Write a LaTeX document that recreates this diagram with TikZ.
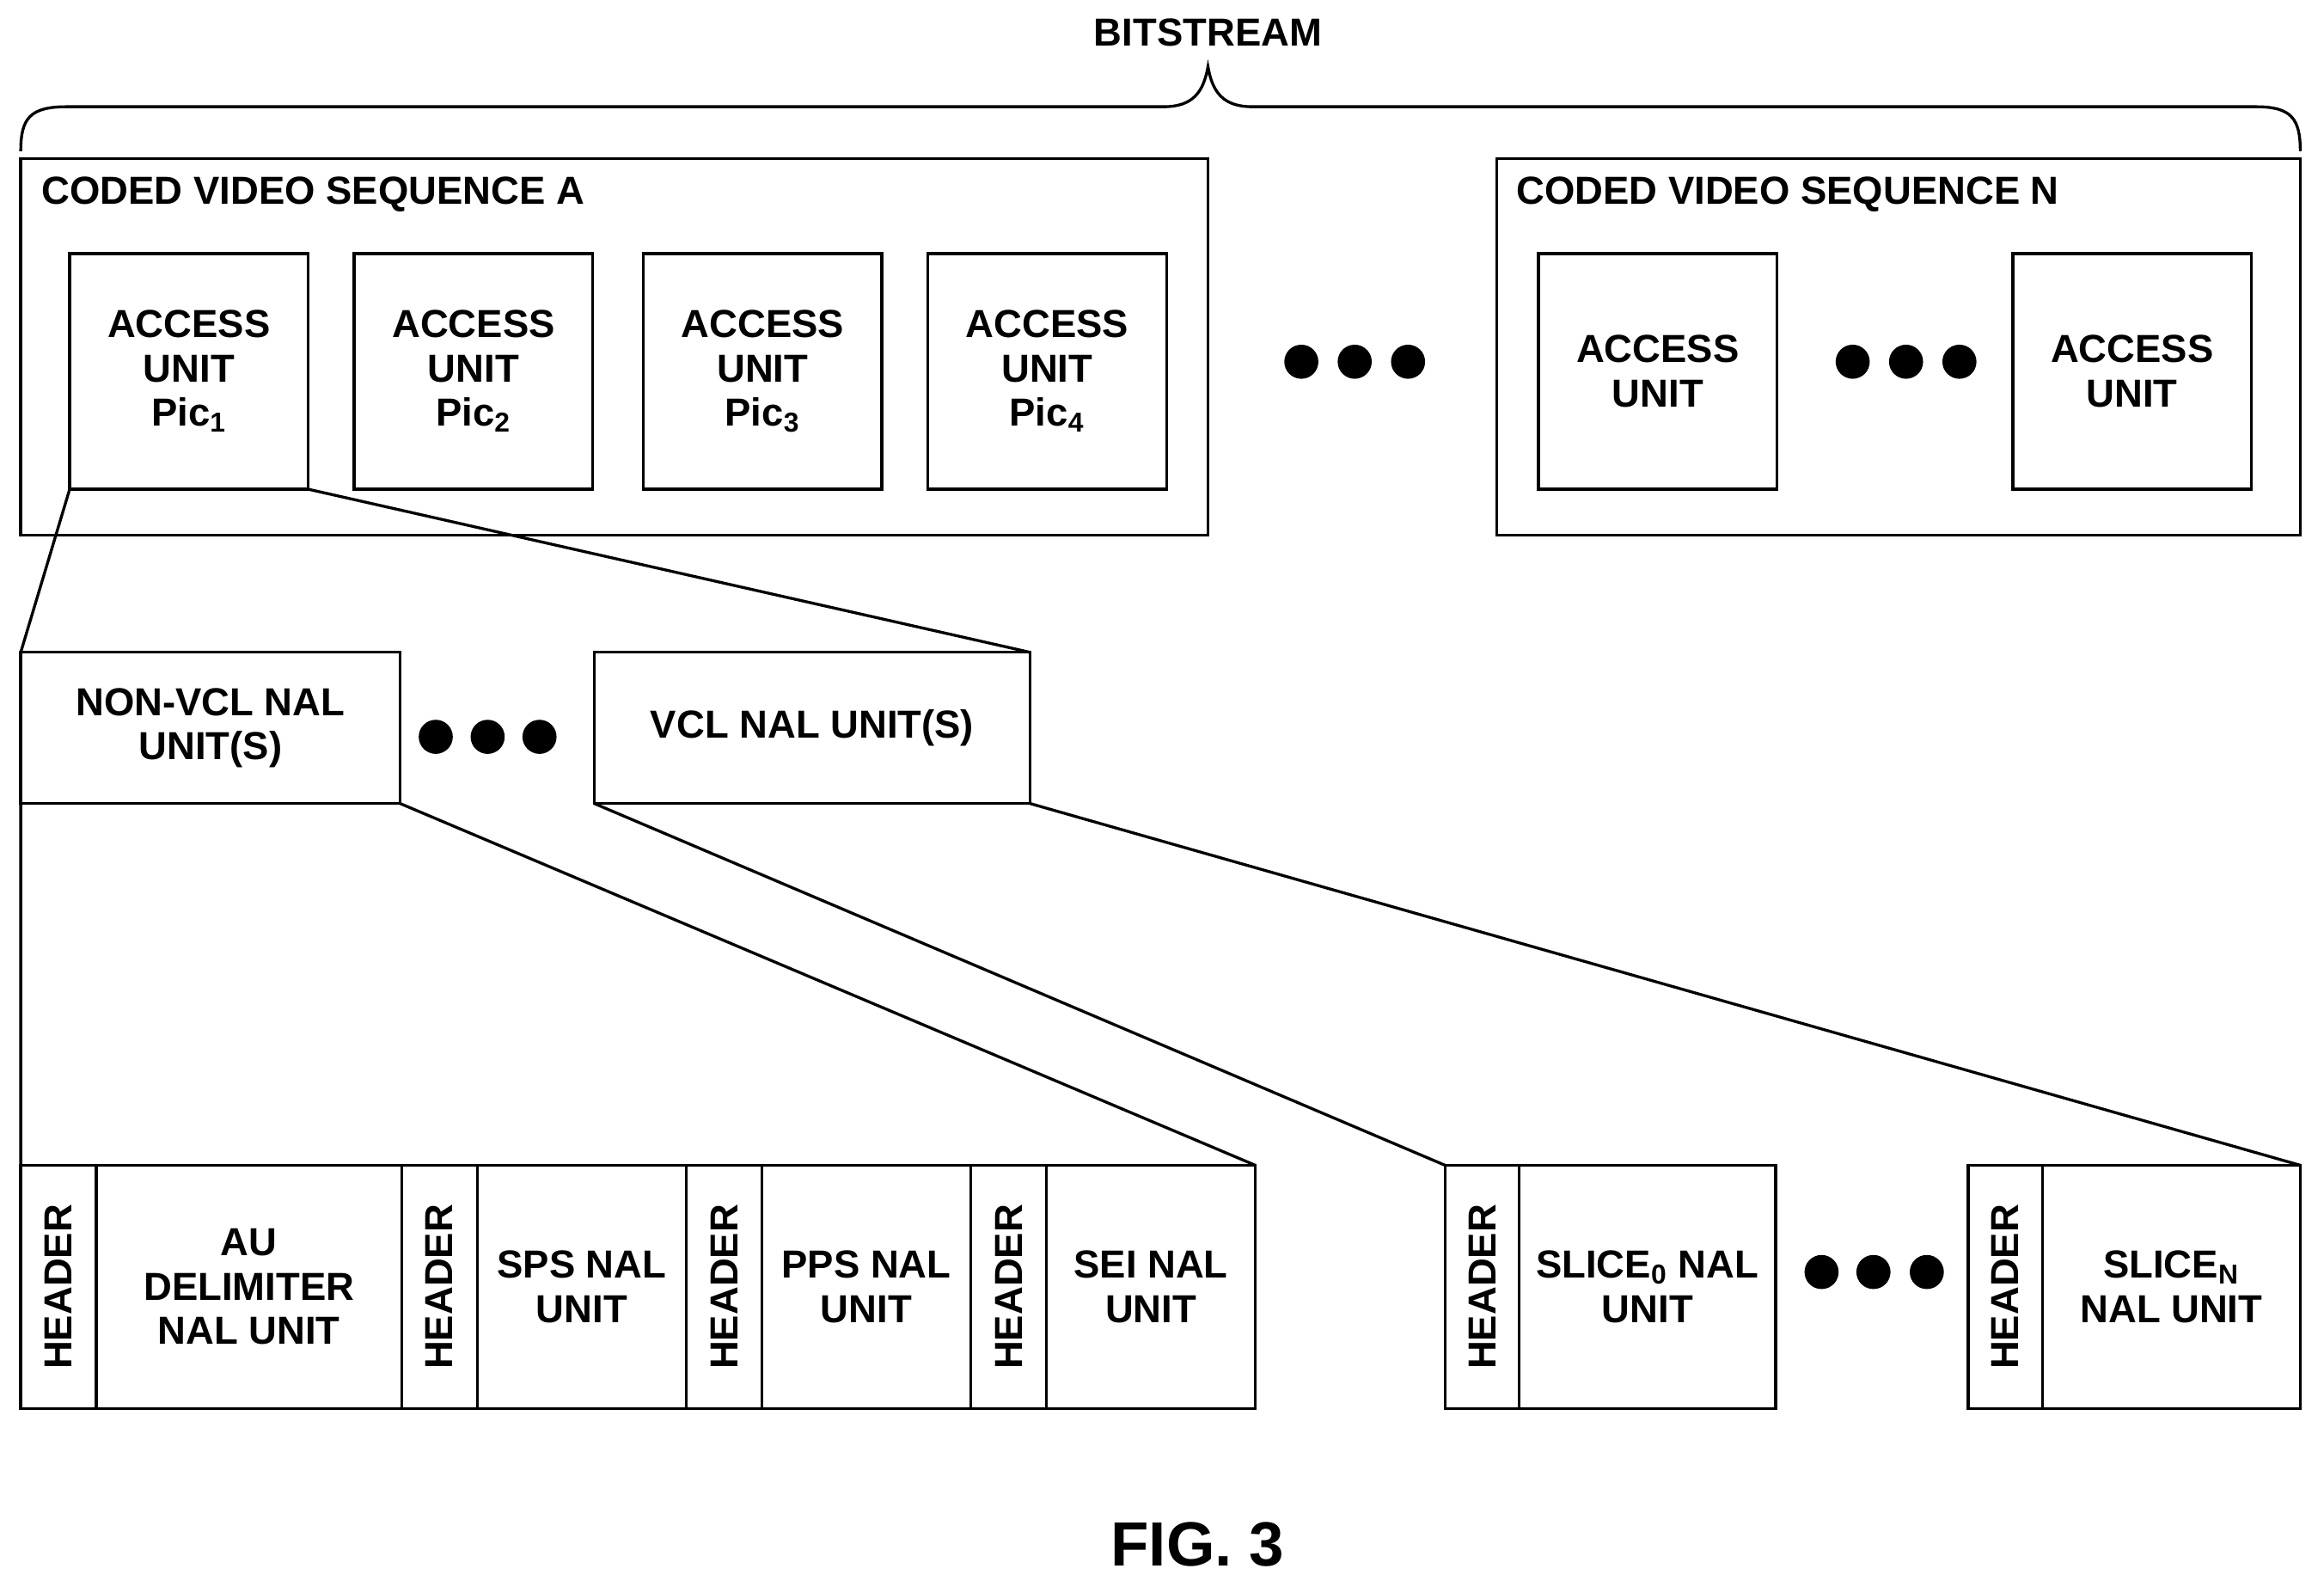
\documentclass[tikz,border=0pt]{standalone}
\usepackage{fontspec}
\setmainfont{Liberation Sans}
\tikzset{
  box/.style={draw,line width=1.1pt,outer sep=0pt,inner sep=0pt,align=center,
    font=\fontsize{15}{17}\selectfont\bfseries},
  dot/.style={fill=black,circle,inner sep=0pt,minimum size=0.46cm},
  link/.style={line width=1.1pt}
}
% box from corner (x1,y1) to (x2,y2) in reference pixels
\newcommand{\pixbox}[6]{%
  \pgfmathsetmacro{\bw}{(#4-#2)*0.02}\pgfmathsetmacro{\bh}{(#5-#3)*0.02}%
  \node[box,minimum width=\bw cm,minimum height=\bh cm] (#1) at ({(#2+#4)/2},{(#3+#5)/2}) {#6};}

\begin{document}
\begin{tikzpicture}[x=0.02cm,y=-0.02cm]
    \useasboundingbox (0,0) rectangle (1568,1070);
    % bitstream brace
    \node[font=\fontsize{15}{17}\selectfont\bfseries] (bits) at (815,22) {BITSTREAM};
    \coordinate (bl) at (14,102);
    \coordinate (br) at (1552,102);
    \draw[line width=1.1pt] (bl) .. controls (14,80) and (20,72) .. (45,72)
        -- (785,72) .. controls (805,72) and (812,62) .. (815,45)
        .. controls (818,62) and (825,72) .. (845,72)
        -- (1522,72) .. controls (1546,72) and (1552,80) .. (br);
    % coded video sequences
    \pixbox{seqA}{14}{107}{815}{361}{}
    \pixbox{seqN}{1010}{107}{1552}{361}{}
    \node[anchor=west,font=\fontsize{15}{17}\selectfont\bfseries] (labA) at (22,131) {CODED VIDEO SEQUENCE A};
    \node[anchor=west,font=\fontsize{15}{17}\selectfont\bfseries] (labN) at (1017,131) {CODED VIDEO SEQUENCE N};
    \pixbox{au1}{47}{171}{208}{330}{ACCESS\\UNIT\\Pic\textsubscript{1}}
    \pixbox{au2}{239}{171}{400}{330}{ACCESS\\UNIT\\Pic\textsubscript{2}}
    \pixbox{au3}{434}{171}{595}{330}{ACCESS\\UNIT\\Pic\textsubscript{3}}
    \pixbox{au4}{626}{171}{787}{330}{ACCESS\\UNIT\\Pic\textsubscript{4}}
    \pixbox{auA}{1038}{171}{1199}{330}{ACCESS\\UNIT}
    \pixbox{auB}{1358}{171}{1519}{330}{ACCESS\\UNIT}
    \foreach \x in {878,914,950} \node[dot] at (\x,244) {};
    \foreach \x in {1250,1286,1322} \node[dot] at (\x,244) {};
    % NAL units of the access unit
    \pixbox{nonvcl}{14}{440}{270}{542}{NON-VCL NAL\\UNIT(S)}
    \pixbox{vcl}{401}{440}{695}{542}{VCL NAL UNIT(S)}
    \foreach \x in {294,329,364} \node[dot] at (\x,497) {};
    \draw[link] (au1.south west) -- (nonvcl.north west);
    \draw[link] (au1.south east) -- (vcl.north east);
    % bottom row
    \pixbox{h1}{14}{786}{65}{950}{\rotatebox{90}{HEADER}}
    \pixbox{aud}{65}{786}{271}{950}{AU\\DELIMITER\\NAL UNIT}
    \pixbox{h2}{271}{786}{322}{950}{\rotatebox{90}{HEADER}}
    \pixbox{sps}{322}{786}{463}{950}{SPS NAL\\UNIT}
    \pixbox{h3}{463}{786}{514}{950}{\rotatebox{90}{HEADER}}
    \pixbox{pps}{514}{786}{655}{950}{PPS NAL\\UNIT}
    \pixbox{h4}{655}{786}{706}{950}{\rotatebox{90}{HEADER}}
    \pixbox{sei}{706}{786}{847}{950}{SEI NAL\\UNIT}
    \pixbox{h5}{975}{786}{1025}{950}{\rotatebox{90}{HEADER}}
    \pixbox{slice0}{1025}{786}{1198}{950}{SLICE\textsubscript{0} NAL\\UNIT}
    \pixbox{h6}{1328}{786}{1378}{950}{\rotatebox{90}{HEADER}}
    \pixbox{sliceN}{1378}{786}{1552}{950}{SLICE\textsubscript{N}\\NAL UNIT}
    \foreach \x in {1229,1264,1300} \node[dot] at (\x,858) {};
    \draw[link] (nonvcl.south west) -- (h1.north west);
    \draw[link] (nonvcl.south east) -- (sei.north east);
    \draw[link] (vcl.south west) -- (h5.north west);
    \draw[link] (vcl.south east) -- (sliceN.north east);
    \node[font=\fontsize{24}{28}\selectfont\bfseries] (fig) at (808,1042) {FIG. 3};
\end{tikzpicture}
\end{document}
